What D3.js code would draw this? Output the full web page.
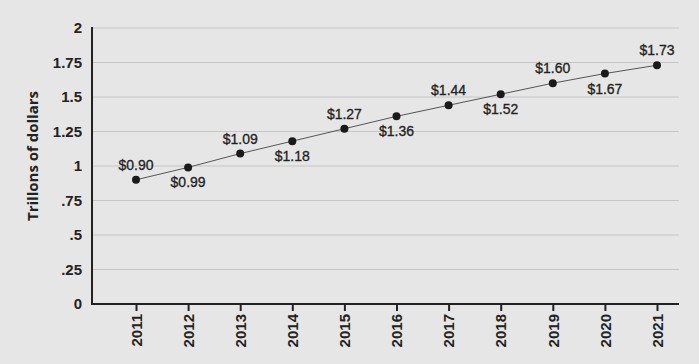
<!DOCTYPE html>
<html><head><meta charset="utf-8">
<script src="https://cdn.jsdelivr.net/npm/d3@7"></script>
<style>
html,body{margin:0;padding:0;background:#e6e6e6;}
svg{display:block;}
</style></head>
<body>
<svg id="c" width="699" height="364"></svg>
<script>
const years = ["2011","2012","2013","2014","2015","2016","2017","2018","2019","2020","2021"];
const values = [0.90,0.99,1.09,1.18,1.27,1.36,1.44,1.52,1.60,1.67,1.73];
const labels = ["$0.90","$0.99","$1.09","$1.18","$1.27","$1.36","$1.44","$1.52","$1.60","$1.67","$1.73"];
const labelPos = ["above","below","above","below","above","below","above","below","above","below","above"];
const yTicks = [0,0.25,0.5,0.75,1,1.25,1.5,1.75,2];
const yTickLabels = ["0",".25",".5",".75","1","1.25","1.5","1.75","2"];

const svg = d3.select("#c");
svg.append("rect").attr("width",699).attr("height",364).attr("fill","#e6e6e6");
const L=92, R=679, T=28, B=304;
const x = d3.scalePoint().domain(years).range([136,657]);
const y = d3.scaleLinear().domain([0,2]).range([B,T]);
const condensed = "'Liberation Sans Narrow','Arial Narrow',sans-serif";

// grid
svg.append("g").selectAll("line").data(yTicks.filter(d=>d>0)).join("line")
  .attr("x1",L).attr("x2",R).attr("y1",d=>y(d)).attr("y2",d=>y(d))
  .attr("stroke","#c6c6c6").attr("stroke-width",1);

// y axis
const ya = svg.append("g").attr("transform",`translate(${L},0)`)
  .call(d3.axisLeft(y).tickValues(yTicks).tickFormat((d,i)=>yTickLabels[i]).tickSize(0).tickPadding(10));
ya.select(".domain").remove();
ya.selectAll("text").attr("font-family",condensed).attr("font-weight","bold").attr("font-size",15).attr("fill","#222");
svg.append("line").attr("x1",L).attr("x2",L).attr("y1",T-1).attr("y2",B+1).attr("stroke","#222").attr("stroke-width",2);

// x axis
const xa = svg.append("g").attr("transform",`translate(0,${B})`)
  .call(d3.axisBottom(x).tickSize(7).tickPadding(6));
xa.select(".domain").remove();
xa.selectAll("line").attr("stroke","#222").attr("stroke-width",2);
xa.selectAll("text").attr("font-family",condensed).attr("font-weight","bold").attr("font-size",15).attr("fill","#222")
  .attr("transform","rotate(-90)").attr("text-anchor","end").attr("dy","0.35em").attr("x",-10).attr("y",0);
svg.append("line").attr("x1",L-1).attr("x2",R).attr("y1",B).attr("y2",B).attr("stroke","#222").attr("stroke-width",2);

// y title
svg.append("text").attr("transform","translate(38,156) rotate(-90)").attr("text-anchor","middle")
  .attr("font-family","'Open Sans',sans-serif").attr("font-weight","bold").attr("font-size",15).attr("fill","#222")
  .text("Trillons of dollars");

// line
const line = d3.line().x((d,i)=>x(years[i])).y(d=>y(d));
svg.append("path").datum(values).attr("d",line).attr("fill","none").attr("stroke","#555").attr("stroke-width",1);
svg.append("g").selectAll("circle").data(values).join("circle")
  .attr("cx",(d,i)=>x(years[i])).attr("cy",d=>y(d)).attr("r",4).attr("fill","#1a1a1a");

// labels
svg.append("g").selectAll("text").data(values).join("text")
  .attr("x",(d,i)=>x(years[i])).attr("y",(d,i)=>labelPos[i]==="above"? y(d)-10 : y(d)+20)
  .attr("text-anchor","middle").attr("font-family",condensed).attr("font-size",14).attr("fill","#222")
  .attr("stroke","#222").attr("stroke-width",0.3)
  .text((d,i)=>labels[i]);
</script>
</body></html>
